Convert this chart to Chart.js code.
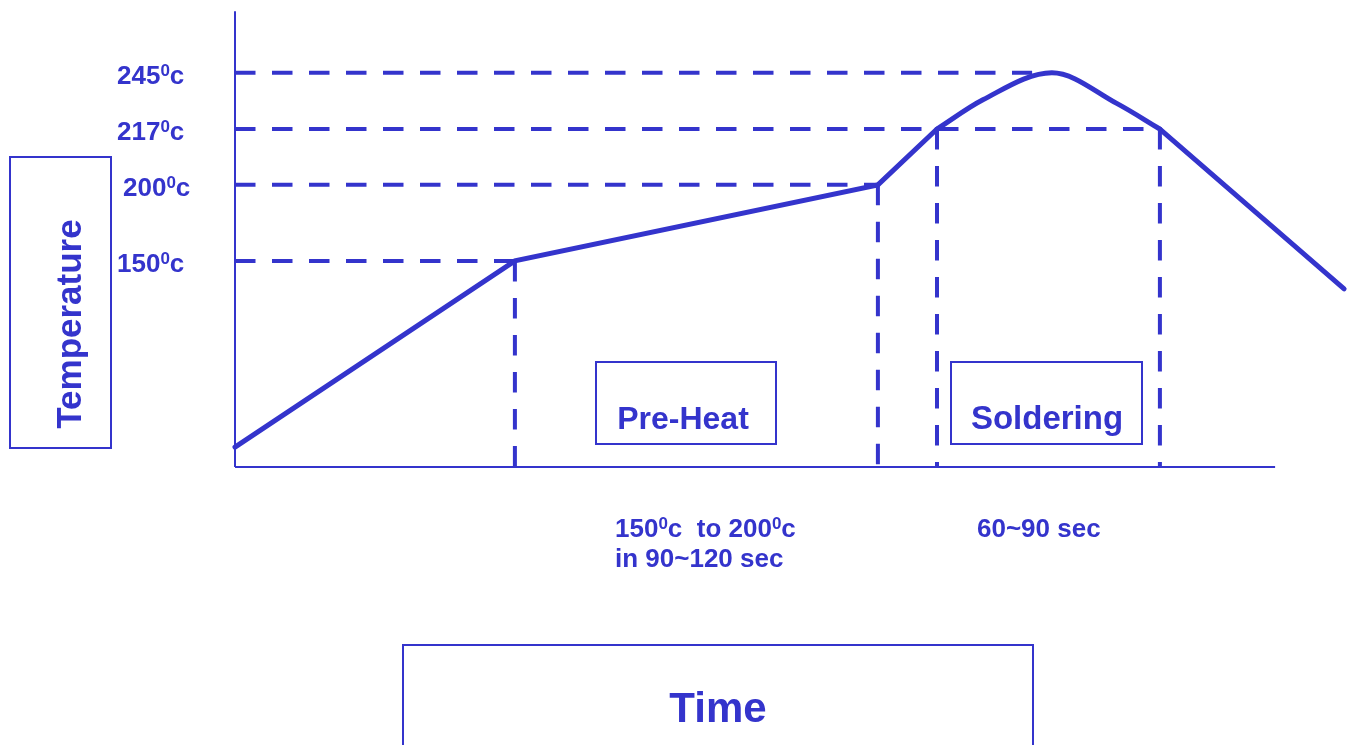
<!DOCTYPE html>
<html>
<head>
<meta charset="utf-8">
<title>Reflow profile</title>
<script src="https://cdn.jsdelivr.net/npm/chart.js@4.4.1/dist/chart.umd.min.js"></script>
<style>
  html, body { margin: 0; padding: 0; background: #fff; }
  canvas { display: block; }
</style>
</head>
<body>
<canvas id="profile" width="1350" height="745"></canvas>
<script>
// Schematic reflow profile: time in seconds (x), diagram level 0-100 (y, not to scale)
const rampTime = [0, 93.3, 214.3, 234];
const rampLevel = [4.4, 45.8, 62.7, 75.1];

// reflow peak: 217 -> 245 -> 217 (monotone spline through read points)
const peakTime = [234, 249.3, 272.3, 293.9, 308.3];
const peakLevel = [75.1, 81.6, 87.6, 80.8, 75.1];

const coolTime = [308.3, 369.7];
const coolLevel = [75.1, 39.6];

// guide lines: temperature label, level, where the horizontal dash stops
const tempLabels = ["245", "217", "200", "150"];
const tempLevels = [87.6, 75.1, 62.7, 45.8];
const guideEnds = [265.7, 308.3, 214.3, 93.3];

// vertical guides drop from these curve points to the time axis
const dropTime = [93.3, 214.3, 234, 308.3];
const dropLevel = [45.8, 62.7, 75.1, 75.1];

const axisTop = 101.3;
const axisEnd = 346.7;

const BLUE = "#3434cc";
const FONT = '"Liberation Sans", Arial, sans-serif';

function pts(xs, ys) {
    return xs.map((x, i) => ({ x, y: ys[i] }));
}

const curveStyle = { borderColor: BLUE, borderWidth: 5, borderCapStyle: "round", borderJoinStyle: "miter", pointRadius: 0, clip: false };
const dashStyle = { borderColor: BLUE, borderWidth: 4, borderDash: [20.5, 16.5], borderCapStyle: "butt", pointRadius: 0, clip: false };
const axisStyle = { borderColor: BLUE, borderWidth: 2, pointRadius: 0, clip: false };

const datasets = [
    { ...curveStyle, data: pts(rampTime, rampLevel) },
    { ...curveStyle, data: pts(peakTime, peakLevel), cubicInterpolationMode: "monotone" },
    { ...curveStyle, data: pts(coolTime, coolLevel) }
];

tempLevels.forEach((lv, i) => {
    datasets.push({ ...dashStyle, data: [{ x: 0, y: lv }, { x: guideEnds[i], y: lv }] });
});
dropTime.forEach((t, i) => {
    datasets.push({ ...dashStyle, data: [{ x: t, y: dropLevel[i] }, { x: t, y: 0 }] });
});
datasets.push({ ...axisStyle, data: [{ x: 0, y: 0 }, { x: 0, y: axisTop }] });
datasets.push({ ...axisStyle, data: [{ x: 0, y: 0 }, { x: axisEnd, y: 0 }] });

// text with superscript "0" parts: [text, isSup]
function drawRich(ctx, parts, x, y, size) {
    let cx = x;
    parts.forEach(([txt, sup]) => {
        if (sup) {
            ctx.font = "bold " + Math.round(size * 0.65) + "px " + FONT;
            ctx.fillText(txt, cx, y - size * 0.31);
        } else {
            ctx.font = "bold " + size + "px " + FONT;
            ctx.fillText(txt, cx, y);
        }
        cx += ctx.measureText(txt).width;
    });
}

const annotations = {
    id: "annotations",
    afterDraw(chart) {
        const ctx = chart.ctx;
        const yS = chart.scales.y;
        ctx.save();
        ctx.fillStyle = BLUE;
        ctx.strokeStyle = BLUE;
        ctx.textBaseline = "alphabetic";
        ctx.textAlign = "left";

        // temperature labels
        const labelX = [117, 117, 123, 117];
        tempLabels.forEach((lab, i) => {
            const py = yS.getPixelForValue(tempLevels[i]);
            drawRich(ctx, [[lab, false], ["0", true], ["c", false]], labelX[i], py + 11, 26);
        });

        // boxes
        ctx.lineWidth = 2;
        ctx.strokeRect(10, 157, 101, 291);
        ctx.strokeRect(596, 362, 180, 82);
        ctx.strokeRect(951, 362, 191, 82);
        ctx.strokeRect(403, 645, 630, 120);

        ctx.textAlign = "center";
        ctx.font = "bold 32px " + FONT;
        ctx.fillText("Pre-Heat", 683, 429);
        ctx.font = "bold 33px " + FONT;
        ctx.fillText("Soldering", 1047, 429);
        ctx.font = "bold 42px " + FONT;
        ctx.fillText("Time", 718, 722);

        ctx.save();
        ctx.translate(81, 324);
        ctx.rotate(-Math.PI / 2);
        ctx.font = "bold 35px " + FONT;
        ctx.fillText("Temperature", 0, 0);
        ctx.restore();

        ctx.textAlign = "left";
        drawRich(ctx, [["150", false], ["0", true], ["c  to 200", false], ["0", true], ["c", false]], 615, 537, 26);
        drawRich(ctx, [["in 90~120 sec", false]], 615, 567, 26);
        drawRich(ctx, [["60~90 sec", false]], 977, 537, 26);
        ctx.restore();
    }
};

new Chart(document.getElementById("profile"), {
    type: "line",
    data: { datasets },
    options: {
        responsive: false,
        animation: false,
        layout: { padding: { left: 235, right: 5, top: 17, bottom: 278 } },
        plugins: { legend: { display: false }, tooltip: { enabled: false } },
        scales: {
            x: { type: "linear", min: 0, max: 370, display: false },
            y: { type: "linear", min: 0, max: 100, display: false }
        }
    },
    plugins: [annotations]
});
</script>
</body>
</html>
